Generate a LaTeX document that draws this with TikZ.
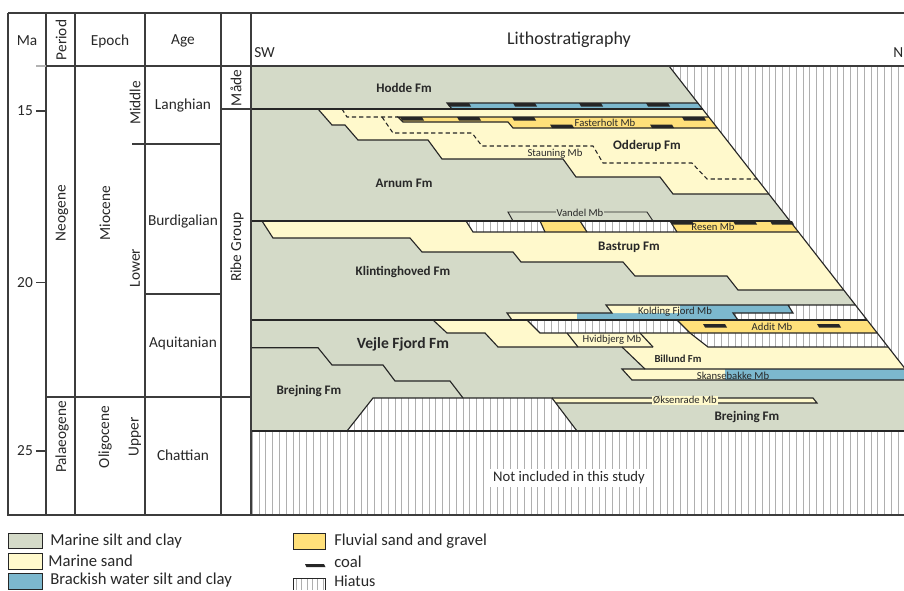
\documentclass[tikz,border=0pt]{standalone}
\usepackage{fontspec}
\setmainfont{Carlito}
\definecolor{silt}{RGB}{212,218,200}
\definecolor{sand}{RGB}{255,249,204}
\definecolor{fluv}{RGB}{255,224,122}
\definecolor{brack}{RGB}{124,184,206}
\definecolor{lc}{RGB}{38,38,38}
\definecolor{tc}{RGB}{40,40,40}
\definecolor{hatchc}{RGB}{175,175,175}
\definecolor{framec}{RGB}{60,60,60}
\tikzset{
  ol/.style={draw=lc, line width=0.85pt, line join=miter},
  hl/.style={draw=hatchc, line width=0.45pt},
  dl/.style={draw=lc, line width=0.8pt, dash pattern=on 3.2pt off 2.2pt},
  fr/.style={draw=framec, line width=1pt},
  fmlab/.style={font=\fontsize{9.8}{11}\selectfont\bfseries, text=tc, inner sep=0pt},
  mblab/.style={font=\fontsize{8}{9}\selectfont, text=tc, inner sep=0.6pt},
  hdr/.style={font=\fontsize{11.5}{13}\selectfont, text=tc, inner sep=0pt},
  leg/.style={font=\fontsize{12.5}{14}\selectfont, text=tc, anchor=west, inner sep=0pt},
}
\newcommand{\hatchpoly}[1]{%
  \begin{scope}
    \clip #1;
    \fill[white] (240,0) rectangle (920,600);
    \foreach \hx in {252,258.8,...,912} \draw[hl] (\hx,0) -- (\hx,600);
  \end{scope}}
\newcommand{\coalbar}[2]{\fill[lc] (#1,#2) -- ++(22,0) -- ++(2,3.5) -- ++(-22,0) -- cycle;}
\begin{document}
\begin{tikzpicture}[x=0.75pt,y=-0.75pt]
\useasboundingbox (0,0) rectangle (904,590);
\fill[white] (0,0) rectangle (904,590);

\begin{scope}
\clip (251,66) rectangle (904,515);
\fill[silt] (251,66) rectangle (910,431);
% hiatus regions
\hatchpoly{(669,66) -- (910,66) -- (910,375) -- cycle}
\hatchpoly{(251,431) rectangle (910,515)}
\hatchpoly{(347,431) -- (373,398) -- (552,398) -- (577,431) -- cycle}
\hatchpoly{(788,305) -- (855.4,305) -- (867.1,320) -- (738,320) -- (733,313) -- (793,313) -- cycle}
\hatchpoly{(527,320) -- (677,320) -- (690,333) -- (540,333) -- cycle}
\hatchpoly{(690,333) -- (877.3,333) -- (888.2,347) -- (708,347) -- cycle}
% fills
\fill[brack] (447,103) -- (698,103) -- (702.5,109) -- (452,109) -- cycle;
\fill[sand] (318,109) -- (702.5,109) -- (768.8,194) -- (673,194) -- (660,177) -- (576,177) -- (563,159) -- (442,159) -- (428,140) -- (358,140) -- (345,125) -- (332,125) -- cycle;
\fill[fluv] (398,117) -- (708.8,117) -- (717.4,128) -- (513,128) -- (508,122) -- (403,122) -- cycle;
\fill[sand] (262,221) -- (789.9,221) -- (843.7,290) -- (738,290) -- (727,276) -- (635,276) -- (623,262) -- (521,262) -- (513,252) -- (422,252) -- (410,238) -- (273,238) -- cycle;
\hatchpoly{(466,221) -- (540,221) -- (545,232) -- (473,232) -- cycle}
\hatchpoly{(580,221) -- (670,221) -- (677,232) -- (587,232) -- cycle}
\fill[fluv] (540,221) -- (580,221) -- (587,232) -- (545,232) -- cycle;
\fill[fluv] (670,221) -- (789.9,221) -- (798.5,232) -- (677,232) -- cycle;
\fill[sand] (507,313) -- (577,313) -- (577,320) -- (512,320) -- cycle;
\fill[brack] (577,313) -- (733,313) -- (738,320) -- (577,320) -- cycle;
\fill[sand] (606,305) -- (680,305) -- (680,313) -- (612,313) -- cycle;
\fill[brack] (680,305) -- (788,305) -- (793,313) -- (680,313) -- cycle;
\fill[sand] (433,320) -- (527,320) -- (540,333) -- (568,333) -- (578,347) -- (498,347) -- (485,333) -- (447,333) -- cycle;
\fill[sand] (567,333) -- (640,333) -- (653,347) -- (578,347) -- cycle;
\fill[sand] (622,347) -- (653,347) -- (640,333) -- (690,333) -- (708,347) -- (888.2,347) -- (905.3,369) -- (645,369) -- cycle;
\fill[fluv] (677,320) -- (867.1,320) -- (877.3,333) -- (690,333) -- cycle;
\fill[sand] (622,369) -- (725,369) -- (725,380) -- (632,380) -- cycle;
\fill[brack] (725,369) -- (910,369) -- (910,380) -- (725,380) -- cycle;
\fill[sand] (552,398) -- (813,398) -- (817,403) -- (556,403) -- cycle;
% coal
\coalbar{447}{103}\coalbar{513}{103}\coalbar{579}{103}\coalbar{646}{103}
\coalbar{400}{117}\coalbar{457}{117}\coalbar{512}{117}\coalbar{682}{117}
\coalbar{550}{124.5}\coalbar{650}{124.5}
\coalbar{670}{221}\coalbar{733}{221}\coalbar{770}{221}
\coalbar{703}{324}\coalbar{817}{324}
% boundaries
\draw[ol] (251,109) -- (702.5,109);
\draw[ol] (452,109) -- (447,103) -- (698,103);
\draw[ol] (318,109) -- (332,125) -- (345,125) -- (358,140) -- (428,140) -- (442,159) -- (563,159) -- (576,177) -- (660,177) -- (673,194) -- (768.8,194);
\draw[ol] (708.8,117) -- (398,117) -- (403,122) -- (508,122) -- (513,128) -- (717.4,128);
\draw[dl] (342,109) -- (347,117) -- (398,117);
\draw[dl] (382,117) -- (393,133) -- (472,133) -- (482,146) -- (593,146) -- (603,163) -- (692,163) -- (707,179) -- (757,179);
\draw[ol, line width=0.7pt] (513,221) -- (508,212) -- (647,212) -- (653,221);
\draw[ol] (251,221) -- (789.9,221);
\draw[ol] (262,221) -- (273,238) -- (410,238) -- (422,252) -- (513,252) -- (521,262) -- (623,262) -- (635,276) -- (727,276) -- (738,290) -- (843.7,290);
\draw[ol] (466,221) -- (473,232) -- (798.5,232);
\draw[ol] (540,221) -- (545,232);
\draw[ol] (580,221) -- (587,232);
\draw[ol] (670,221) -- (677,232);
\draw[ol] (855.4,305) -- (606,305) -- (612,313) -- (507,313) -- (512,320);
\draw[ol] (788,305) -- (793,313) -- (733,313) -- (738,320);
\draw[ol] (251,320) -- (867.1,320);
\draw[ol] (433,320) -- (447,333) -- (485,333) -- (498,347) -- (653,347);
\draw[ol] (527,320) -- (540,333) -- (877.3,333);
\draw[ol] (677,320) -- (690,333) -- (708,347) -- (888.2,347);
\draw[ol] (567,333) -- (578,347);
\draw[ol] (640,333) -- (653,347);
\draw[ol] (622,347) -- (645,369);
\draw[ol] (910,369) -- (622,369) -- (632,380) -- (910,380);
\draw[ol] (251,347.7) -- (318,347.7) -- (332,365) -- (383,365) -- (395,381) -- (450,381) -- (463,398);
\draw[ol] (347,431) -- (373,398) -- (552,398) -- (577,431);
\draw[ol] (552,398) -- (813,398) -- (817,403) -- (556,403);
\draw[ol] (251,431) -- (910,431);
\draw[ol] (669,66) -- (910,375);
% labels
\node[fmlab] (hodde) at (404,88) {Hodde Fm};
\node[mblab] (fasterholt) at (605,123) {Fasterholt Mb};
\node[fmlab] (odderup) at (647,146) {Odderup Fm};
\node[mblab] (stauning) at (555,154) {Stauning Mb};
\node[fmlab] (arnum) at (404,183) {Arnum Fm};
\node[mblab, fill=silt] (vandel) at (580,213) {Vandel Mb};
\node[mblab] (resen) at (713,227) {Resen Mb};
\node[fmlab] (bastrup) at (629,247) {Bastrup Fm};
\node[fmlab] (klint) at (403,272) {Klintinghoved Fm};
\node[mblab] (kolding) at (675,311.5) {Kolding Fjord Mb};
\node[mblab] (addit) at (772,327) {Addit Mb};
\node[mblab] (hvid) at (612,340) {Hvidbjerg Mb};
\node[font=\fontsize{11.7}{13}\selectfont\bfseries, text=tc, inner sep=0pt] (vejle) at (403,344.5) {Vejle Fjord Fm};
\node[font=\fontsize{8}{9}\selectfont\bfseries, text=tc, inner sep=0pt] (billund) at (678,359) {Billund Fm};
\node[mblab] (skanse) at (733,375.5) {Skansebakke Mb};
\node[fmlab] (brejL) at (309,391) {Brejning Fm};
\node[mblab, fill=sand] (oksen) at (685,400.5) {Øksenrade Mb};
\node[fmlab] (brejR) at (747,417) {Brejning Fm};
\node[font=\fontsize{11}{13}\selectfont, text=tc, fill=white, inner sep=2pt] (notinc) at (569,478) {Not included in this study};
\end{scope}

% table frame
\draw[fr] (8,13) -- (904,13);
\draw[fr] (8,13) -- (8,515) -- (904,515);
\foreach \cx in {46,75,145,221,251} \draw[fr] (\cx,13) -- (\cx,515);
\draw[fr] (46,66) -- (904,66);
\draw[draw=gray!60, line width=0.8pt] (36,66) -- (46,66);
\draw[fr] (36,111) -- (46,111);
\draw[fr] (36,282.7) -- (46,282.7);
\draw[fr] (36,451) -- (46,451);
\draw[fr] (46,397) -- (251,397);
\draw[fr] (132,144) -- (221,144);
\draw[fr] (145,294) -- (221,294);
\draw[fr] (221,109) -- (251,109);
% header texts
\node[hdr] (hma) at (27,41) {Ma};
\node[hdr, rotate=90] (hper) at (61,40) {Period};
\node[hdr] (hep) at (110,41) {Epoch};
\node[hdr] (hage) at (183,41) {Age};
\node[font=\fontsize{13.5}{15}\selectfont, text=tc, inner sep=0pt] (hlith) at (569,40) {Lithostratigraphy};
\node[hdr, anchor=west] (hsw) at (254,53) {SW};
\node[hdr, anchor=west] (hne) at (893,53) {N};
\node[hdr] (t15) at (25,111) {15};
\node[hdr] (t20) at (25,283) {20};
\node[hdr] (t25) at (25,451) {25};
\node[hdr, rotate=90] (neog) at (62,213) {Neogene};
\node[hdr, rotate=90] (palg) at (62,437) {Palaeogene};
\node[hdr, rotate=90] (mioc) at (105,213) {Miocene};
\node[hdr, rotate=90] (olig) at (105,437) {Oligocene};
\node[hdr, rotate=90] (midd) at (135,103) {Middle};
\node[hdr, rotate=90] (lowr) at (135,268) {Lower};
\node[hdr, rotate=90] (uppr) at (135,437) {Upper};
\node[hdr] (lang) at (183,105) {Langhian};
\node[hdr] (burd) at (183,221) {Burdigalian};
\node[hdr] (aqui) at (183,343) {Aquitanian};
\node[hdr] (chat) at (183,455) {Chattian};
\node[hdr, rotate=90] (made) at (236,88) {Måde};
\node[hdr, rotate=90] (ribe) at (237,247) {Ribe Group};
% legend
\draw[draw=lc, line width=0.7pt, fill=silt] (8,533) rectangle (42,548);
\draw[draw=lc, line width=0.7pt, fill=sand] (8,553) rectangle (42,569);
\draw[draw=lc, line width=0.7pt, fill=brack] (8,573) rectangle (42,589);
\draw[draw=lc, line width=0.7pt, fill=fluv] (293,533) rectangle (325,549);
\fill[lc] (305,564) -- ++(19,0) -- ++(1.5,3) -- ++(-19,0) -- cycle;
\begin{scope}
\clip (293,578) rectangle (325,590);
\foreach \lx in {296.5,301.8,...,325} \draw[hl, line width=0.6pt] (\lx,578) -- (\lx,590);
\end{scope}
\draw[draw=lc, line width=0.7pt] (325,589.5) -- (325,578) -- (293,578) -- (293,589.5);
\node[leg] (l1) at (50,541.5) {Marine silt and clay};
\node[leg] (l2) at (48,561) {Marine sand};
\node[leg] (l3) at (50,580.5) {Brackish water silt and clay};
\node[leg] (l4) at (334,541) {Fluvial sand and gravel};
\node[leg] (l5) at (334,562) {coal};
\node[leg, font=\fontsize{12}{13}\selectfont] (l6) at (334,581.5) {Hiatus};
\end{tikzpicture}
\end{document}
